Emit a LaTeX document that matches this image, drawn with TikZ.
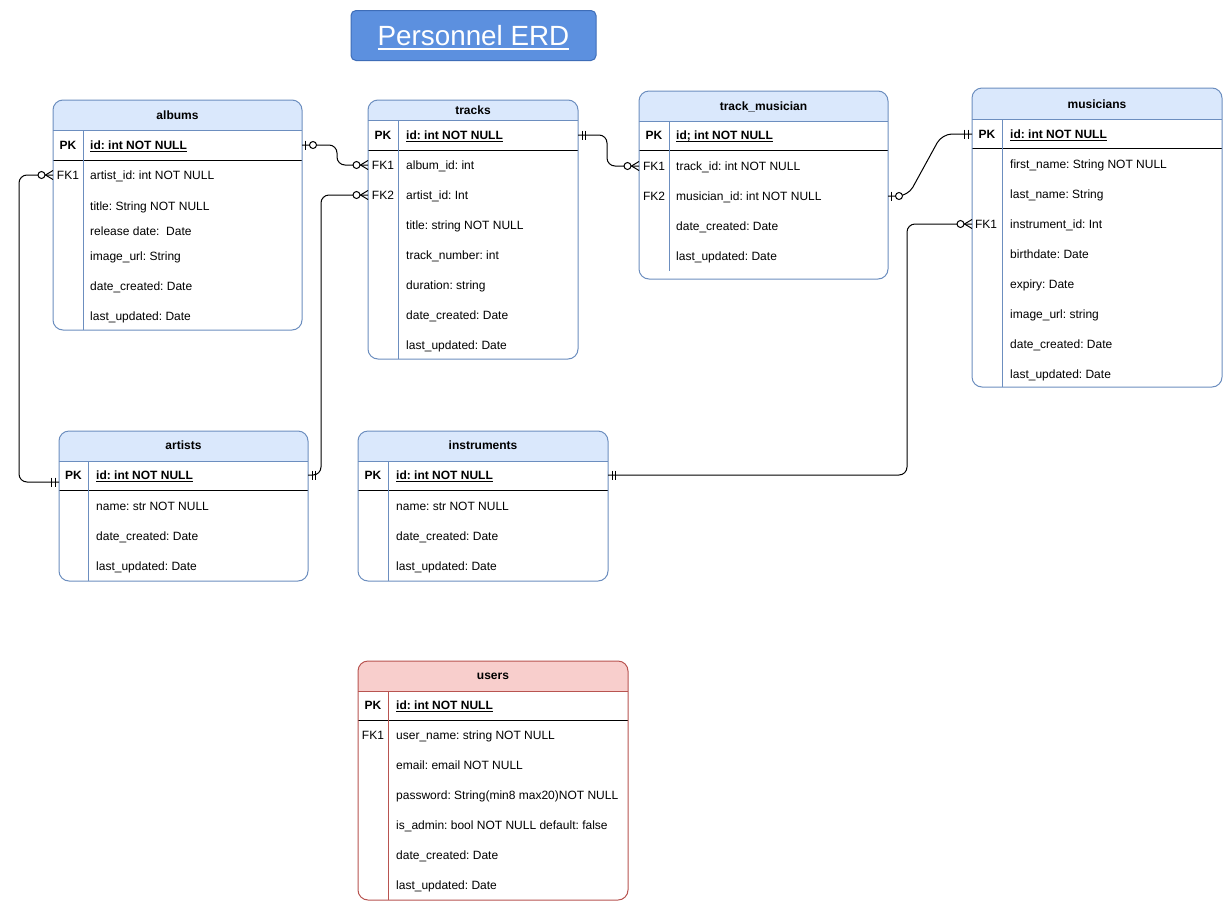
\documentclass[tikz,border=0pt]{standalone}
\usepackage{fontspec}
\setmainfont{Liberation Sans}
\usetikzlibrary{calc}
\frenchspacing
\definecolor{hdrblue}{HTML}{DAE8FC}
\definecolor{bdblue}{HTML}{6C8EBF}
\definecolor{hdrred}{HTML}{F8CECC}
\definecolor{bdred}{HTML}{B85450}
\definecolor{ttlfill}{HTML}{5C90DF}
\definecolor{ttldraw}{HTML}{3E6DB8}

\newcommand\ulined[1]{\sbox0{#1}\rlap{\rule[-2.2pt]{\wd0}{1pt}}\usebox0}
\newcommand\ulinedbig[1]{\sbox0{#1}\rlap{\rule[-4pt]{\wd0}{1.7pt}}\usebox0}

% #1 name, #2 x1, #3 y1, #4 x2, #5 y2, #6 header bottom, #7 pk bottom, #8 divider x, #9 divider end
\newcommand\erdtable[9]{%
  \begin{scope}
    \clip[rounded corners=10pt] (#2,#3) rectangle (#4,#5);
    \fill[fill=\hdrc] (#2,#3) rectangle (#4,#6);
  \end{scope}
  \draw[draw=\bdc, line width=1pt] (#2,#6) -- (#4,#6);
  \draw[black, line width=1pt] (#2,#7) -- (#4,#7);
  \draw[draw=\bdc, line width=1pt] (#8,#6) -- (#8,#9);
  \node[tblbox, draw=\bdc, minimum width={#4-#2}, minimum height={#5-#3}] (#1) at ({(#2+#4)/2},{(#3+#5)/2}) {};
}

\tikzset{
  tblbox/.style={rectangle, rounded corners=10pt, inner sep=0pt, outer sep=0pt, line width=1pt},
  rowtxt/.style={anchor=west, inner sep=0pt, text height=8.6pt, text depth=0pt, font=\fontsize{12}{14}\selectfont\frenchspacing},
  keytxt/.style={rowtxt, anchor=center},
  boldtxt/.style={font=\fontsize{12}{14}\selectfont\bfseries\frenchspacing},
  hdrtxt/.style={keytxt, boldtxt},
  conn/.style={draw=black, line width=1pt, rounded corners=8pt},
  mone/.pic={\draw[line width=1pt] (4,-4.5) -- (4,4.5) (7.5,-4.5) -- (7.5,4.5);},
  zone/.pic={\draw[line width=1pt] (3,-4.5) -- (3,4.5); \draw[line width=1pt, fill=white] (11,0) circle (3.5);},
  zmany/.pic={\draw[line width=1pt] (0,-4.5) -- (7.5,0) -- (0,4.5); \draw[line width=1pt, fill=white] (11.5,0) circle (3.5);},
}

\begin{document}
\begin{tikzpicture}[x=1pt, y=-1pt]
\useasboundingbox (0,0) rectangle (1232,911);
\fill[white] (0,0) rectangle (1232,911);

% title
\node[draw=ttldraw, fill=ttlfill, line width=1pt, rounded corners=5pt, minimum width=245, minimum height=50,
      inner sep=0pt, text=white, text height=20pt, text depth=0pt, font=\fontsize{27.8}{30}\selectfont] (title) at (473.5,35.5) {\ulinedbig{Personnel ERD}};

\def\hdrc{hdrblue}\def\bdc{bdblue}
% albums
\erdtable{albums}{53}{100}{302}{330}{130}{160}{83}{330}
\node[hdrtxt] (albums-t) at (177.5,115) {albums};
\node[keytxt, boldtxt] (albums-k1) at (68,145) {PK};
\node[keytxt] (albums-k2) at (68,175) {FK1};
\node[rowtxt, boldtxt] (albums-pk) at (90,145) {\ulined{id: int NOT NULL}};
\node[rowtxt] (albums-fk1) at (90,175) {artist\_id: int NOT NULL};
\node[rowtxt] (albums-r3) at (90,206) {title: String NOT NULL};
\node[rowtxt] (albums-r4) at (90,231) {release date:\ \ Date};
\node[rowtxt] (albums-r5) at (90,256) {image\_url: String};
\node[rowtxt] (albums-r6) at (90,286) {date\_created: Date};
\node[rowtxt] (albums-r7) at (90,316) {last\_updated: Date};

% tracks
\erdtable{tracks}{368}{100}{578}{359}{120}{150}{398}{359}
\node[hdrtxt] (tracks-t) at (473,110) {tracks};
\node[keytxt, boldtxt] (tracks-k1) at (383,135) {PK};
\node[keytxt] (tracks-k2) at (383,165) {FK1};
\node[keytxt] (tracks-k3) at (383,195) {FK2};
\node[rowtxt, boldtxt] (tracks-pk) at (406,135) {\ulined{id: int NOT NULL}};
\node[rowtxt] (tracks-fk1) at (406,165) {album\_id: int};
\node[rowtxt] (tracks-fk2) at (406,195) {artist\_id: Int};
\node[rowtxt] (tracks-r4) at (406,225) {title: string NOT NULL};
\node[rowtxt] (tracks-r5) at (406,255) {track\_number: int};
\node[rowtxt] (tracks-r6) at (406,285) {duration: string};
\node[rowtxt] (tracks-r7) at (406,315) {date\_created: Date};
\node[rowtxt] (tracks-r8) at (406,345) {last\_updated: Date};

% track_musician
\erdtable{tm}{639}{91}{888}{279}{121}{150}{669}{271}
\node[hdrtxt] (tm-t) at (763.5,106) {track\_musician};
\node[keytxt, boldtxt] (tm-k1) at (654,135) {PK};
\node[keytxt] (tm-k2) at (654,166) {FK1};
\node[keytxt] (tm-k3) at (654,196) {FK2};
\node[rowtxt, boldtxt] (tm-pk) at (676,135) {\ulined{id; int NOT NULL}};
\node[rowtxt] (tm-fk1) at (676,166) {track\_id: int NOT NULL};
\node[rowtxt] (tm-fk2) at (676,196) {musician\_id: int NOT NULL};
\node[rowtxt] (tm-r4) at (676,226) {date\_created: Date};
\node[rowtxt] (tm-r5) at (676,256) {last\_updated: Date};

% musicians
\erdtable{musicians}{972}{88}{1222}{387}{119}{148}{1002}{387}
\node[hdrtxt] (mus-t) at (1097,104) {musicians};
\node[keytxt, boldtxt] (mus-k1) at (987,134) {PK};
\node[keytxt] (mus-k2) at (986,224) {FK1};
\node[rowtxt, boldtxt] (mus-pk) at (1010,134) {\ulined{id: int NOT NULL}};
\node[rowtxt] (mus-r2) at (1010,164) {first\_name: String NOT NULL};
\node[rowtxt] (mus-r3) at (1010,194) {last\_name: String};
\node[rowtxt] (mus-fk1) at (1010,224) {instrument\_id: Int};
\node[rowtxt] (mus-r5) at (1010,254) {birthdate: Date};
\node[rowtxt] (mus-r6) at (1010,284) {expiry: Date};
\node[rowtxt] (mus-r7) at (1010,314) {image\_url: string};
\node[rowtxt] (mus-r8) at (1010,344) {date\_created: Date};
\node[rowtxt] (mus-r9) at (1010,374) {last\_updated: Date};

% artists
\erdtable{artists}{59}{431}{308}{581}{461}{490}{88}{581}
\node[hdrtxt] (art-t) at (183.5,445) {artists};
\node[keytxt, boldtxt] (art-k1) at (73.5,475) {PK};
\node[rowtxt, boldtxt] (art-pk) at (96,475) {\ulined{id: int NOT NULL}};
\node[rowtxt] (art-r2) at (96,506) {name: str NOT NULL};
\node[rowtxt] (art-r3) at (96,536) {date\_created: Date};
\node[rowtxt] (art-r4) at (96,566) {last\_updated: Date};

% instruments
\erdtable{instruments}{358}{431}{608}{581}{461}{490}{388}{581}
\node[hdrtxt] (ins-t) at (483,445) {instruments};
\node[keytxt, boldtxt] (ins-k1) at (373,475) {PK};
\node[rowtxt, boldtxt] (ins-pk) at (396,475) {\ulined{id: int NOT NULL}};
\node[rowtxt] (ins-r2) at (396,506) {name: str NOT NULL};
\node[rowtxt] (ins-r3) at (396,536) {date\_created: Date};
\node[rowtxt] (ins-r4) at (396,566) {last\_updated: Date};

% users
\def\hdrc{hdrred}\def\bdc{bdred}
\erdtable{users}{358}{661}{628}{900}{691}{720}{388}{900}
\node[hdrtxt] (usr-t) at (493,675) {users};
\node[keytxt, boldtxt] (usr-k1) at (373,705) {PK};
\node[keytxt] (usr-k2) at (373,735) {FK1};
\node[rowtxt, boldtxt] (usr-pk) at (396,705) {\ulined{id: int NOT NULL}};
\node[rowtxt] (usr-r2) at (396,735) {user\_name: string NOT NULL};
\node[rowtxt] (usr-r3) at (396,765) {email: email NOT NULL};
\node[rowtxt] (usr-r4) at (396,795) {password: String(min8 max20)NOT NULL};
\node[rowtxt] (usr-r5) at (396,825) {is\_admin: bool NOT NULL default: false};
\node[rowtxt] (usr-r6) at (396,855) {date\_created: Date};
\node[rowtxt] (usr-r7) at (396,885) {last\_updated: Date};

% connectors
\draw[conn] (albums.east |- albums-pk) -- ++(35,0) |- (tracks.west |- tracks-fk1);
\draw[conn] (artists.east |- art-pk) -- ++(13,0) |- (tracks.west |- tracks-fk2);
\draw[conn] (albums.west |- albums-fk1) -- ++(-34,0) |- ([yshift=-7pt]artists.west |- art-pk);
\draw[conn] (tracks.east |- tracks-pk) -- ++(29,0) |- (tm.west |- tm-fk1);
\draw[conn, rounded corners=10pt] (tm.east |- tm-fk2) -- ++(20,0) -- ([xshift=-30pt]musicians.west |- mus-pk) -- (musicians.west |- mus-pk);
\draw[conn] (instruments.east |- ins-pk) -- ++(299,0) |- (musicians.west |- mus-fk1);

% markers
\pic at (albums.east |- albums-pk) {zone};
\pic[xscale=-1] at (tracks.west |- tracks-fk1) {zmany};
\pic at (artists.east |- art-pk) {mone};
\pic[xscale=-1] at (tracks.west |- tracks-fk2) {zmany};
\pic[xscale=-1] at (albums.west |- albums-fk1) {zmany};
\pic[xscale=-1] at ([yshift=-7pt]artists.west |- art-pk) {mone};
\pic at (tracks.east |- tracks-pk) {mone};
\pic[xscale=-1] at (tm.west |- tm-fk1) {zmany};
\pic at (tm.east |- tm-fk2) {zone};
\pic[xscale=-1] at (musicians.west |- mus-pk) {mone};
\pic at (instruments.east |- ins-pk) {mone};
\pic[xscale=-1] at (musicians.west |- mus-fk1) {zmany};
\end{tikzpicture}
\end{document}
